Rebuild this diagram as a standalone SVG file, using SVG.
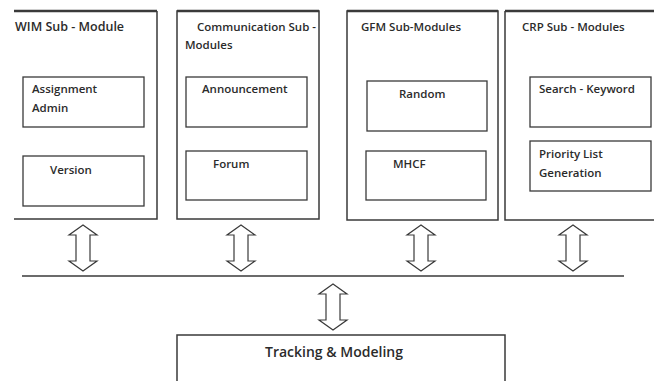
<svg xmlns="http://www.w3.org/2000/svg" width="654" height="381" viewBox="0 0 654 381">
<defs>
<style>
.bg{fill:#ffffff}
.panel{fill:none;stroke:#3a3a3a;stroke-width:1.5}
.ptop{fill:none;stroke:#3a3a3a;stroke-width:2.5}
.box{fill:#ffffff;stroke:#3a3a3a;stroke-width:1.3}
.t{font-family:"Open Sans","Liberation Sans",sans-serif;font-size:11.5px;font-weight:600;fill:#2b2b2b}
.h{font-family:"Open Sans","Liberation Sans",sans-serif;font-size:12.5px;font-weight:600;fill:#2b2b2b}
.arr{fill:#ffffff;stroke:#3a3a3a;stroke-width:1.2}
.bus{stroke:#3a3a3a;stroke-width:1.5}
</style>
<path id="dblarrow" d="M0,0 L14,10 L7,10 L7,36 L14,36 L0,46 L-14,36 L-7,36 L-7,10 L-14,10 Z"/>
</defs>
<rect class="bg" x="0" y="0" width="654" height="381"/>

<g id="wim">
<path class="panel" d="M14,219 L157,219 L157,11"/>
<line class="ptop" x1="14" y1="11" x2="157" y2="11"/>
<text class="h" x="15" y="31">WIM Sub - Module</text>
<g id="assignment-admin">
<rect class="box" x="23" y="77" width="121" height="50"/>
<text class="t" x="32" y="93">Assignment</text>
<text class="t" x="32" y="112">Admin</text>
</g>
<g id="version">
<rect class="box" x="23" y="156" width="121" height="50"/>
<text class="t" x="50" y="174">Version</text>
</g>
</g>

<g id="communication">
<rect class="panel" x="177" y="11" width="142" height="208"/>
<line class="ptop" x1="177" y1="11" x2="319" y2="11"/>
<text class="h" x="197" y="31" style="font-size:11.5px">Communication Sub -</text>
<text class="h" x="185" y="49" style="font-size:11.5px">Modules</text>
<g id="announcement">
<rect class="box" x="186" y="77" width="121" height="50"/>
<text class="t" x="202" y="93">Announcement</text>
</g>
<g id="forum">
<rect class="box" x="186" y="151" width="121" height="49"/>
<text class="t" x="213" y="168">Forum</text>
</g>
</g>

<g id="gfm">
<rect class="panel" x="347" y="11" width="151" height="209"/>
<line class="ptop" x1="347" y1="11" x2="498" y2="11"/>
<text class="h" x="361" y="31" style="font-size:11.5px">GFM Sub-Modules</text>
<g id="random">
<rect class="box" x="367" y="81" width="120" height="50"/>
<text class="t" x="399" y="98">Random</text>
</g>
<g id="mhcf">
<rect class="box" x="366" y="151" width="120" height="49"/>
<text class="t" x="393" y="168">MHCF</text>
</g>
</g>

<g id="crp">
<path class="panel" d="M660,220 L505,220 L505,11"/>
<line class="ptop" x1="505" y1="11" x2="660" y2="11"/>
<text class="h" x="522" y="31" style="font-size:11.5px">CRP Sub - Modules</text>
<g id="search-keyword">
<rect class="box" x="530" y="77" width="121" height="50"/>
<text class="t" x="539" y="93">Search - Keyword</text>
</g>
<g id="priority-list">
<rect class="box" x="530" y="141" width="121" height="50"/>
<text class="t" x="539" y="158">Priority List</text>
<text class="t" x="539" y="177">Generation</text>
</g>
</g>

<g id="tracking">
<rect class="panel" x="177" y="335" width="328" height="60"/>
<text class="h" x="334" y="357" text-anchor="middle" style="font-size:14px">Tracking &amp; Modeling</text>
</g>

<g id="connectors">
<line class="bus" x1="22" y1="276" x2="624" y2="276"/>
<use href="#dblarrow" class="arr" transform="translate(83,225)"/>
<use href="#dblarrow" class="arr" transform="translate(241,225)"/>
<use href="#dblarrow" class="arr" transform="translate(421,225)"/>
<use href="#dblarrow" class="arr" transform="translate(573,225)"/>
<use href="#dblarrow" class="arr" transform="translate(333,284)"/>
</g>
</svg>
